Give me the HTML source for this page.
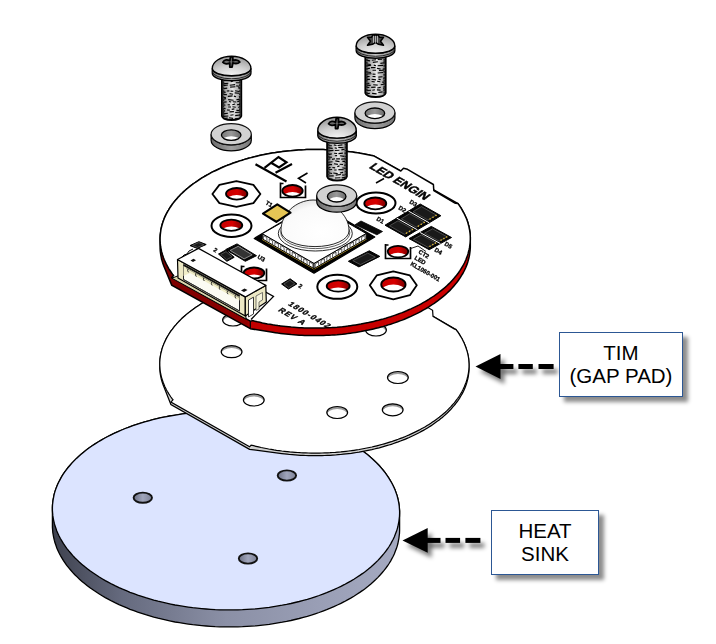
<!DOCTYPE html>
<html><head><meta charset="utf-8"><style>
html,body{margin:0;padding:0;background:#fff;}
body{width:716px;height:644px;overflow:hidden;position:relative;font-family:"Liberation Sans",sans-serif;}
svg{position:absolute;left:0;top:0;}
.box{position:absolute;box-sizing:border-box;border:1.3px solid #2c5794;background:#fff;box-shadow:5px 5px 4px rgba(0,0,0,0.45);color:#000;text-align:center;font-size:20.5px;line-height:23px;}
</style></head><body>
<svg width="716" height="644" viewBox="0 0 716 644">
<defs>
<linearGradient id="hsg" x1="52" y1="0" x2="400" y2="0" gradientUnits="userSpaceOnUse">
 <stop offset="0" stop-color="#3e414e"/><stop offset="0.2" stop-color="#656a7e"/><stop offset="0.5" stop-color="#8b90a6"/><stop offset="0.8" stop-color="#9ba0b7"/><stop offset="1" stop-color="#a5aac1"/></linearGradient>
<linearGradient id="pcbred" x1="160" y1="0" x2="470" y2="0" gradientUnits="userSpaceOnUse">
 <stop offset="0" stop-color="#7a0000"/><stop offset="0.28" stop-color="#900000"/><stop offset="0.295" stop-color="#c20000"/><stop offset="1" stop-color="#cc0000"/></linearGradient>
<linearGradient id="holeg" x1="0" y1="0" x2="1" y2="0">
 <stop offset="0" stop-color="#6d7185"/><stop offset="0.5" stop-color="#a0a5bb"/><stop offset="1" stop-color="#7d8196"/></linearGradient>
<linearGradient id="redg" x1="0" y1="0" x2="1" y2="0">
 <stop offset="0" stop-color="#c40000"/><stop offset="0.55" stop-color="#d80000"/><stop offset="1" stop-color="#7a0000"/></linearGradient>
<linearGradient id="washhole" x1="0" y1="0" x2="1" y2="0">
 <stop offset="0" stop-color="#777"/><stop offset="0.5" stop-color="#9a9a9a"/><stop offset="1" stop-color="#6a6a6a"/></linearGradient>
<radialGradient id="domeg" cx="0.6" cy="0.7" r="0.75">
 <stop offset="0" stop-color="#ffffff"/><stop offset="0.75" stop-color="#fafafa"/><stop offset="1" stop-color="#e2e2e2"/></radialGradient>
<linearGradient id="washside" x1="0" y1="0" x2="1" y2="0">
 <stop offset="0" stop-color="#6a6a6a"/><stop offset="0.5" stop-color="#a0a0a0"/><stop offset="1" stop-color="#777"/></linearGradient>
<radialGradient id="headg" cx="0.5" cy="1" r="0.9">
 <stop offset="0" stop-color="#f6f6f6"/><stop offset="0.55" stop-color="#cfcfcf"/><stop offset="1" stop-color="#a0a0a0"/></radialGradient>
<linearGradient id="rimg" x1="0" y1="0" x2="1" y2="0">
 <stop offset="0" stop-color="#777"/><stop offset="0.5" stop-color="#c4c4c4"/><stop offset="1" stop-color="#7c7c7c"/></linearGradient>
<linearGradient id="shank" x1="0" y1="0" x2="1" y2="0">
 <stop offset="0" stop-color="#666"/><stop offset="0.2" stop-color="#aaa"/><stop offset="0.55" stop-color="#e8e8e8"/><stop offset="0.85" stop-color="#aaa"/><stop offset="1" stop-color="#666"/></linearGradient>
<filter id="blur" x="-30%" y="-100%" width="160%" height="300%"><feGaussianBlur stdDeviation="2.3"/></filter>
</defs>
<path d="M399.6,513.6 L399.6,530.6 L399.5,533.2 L399.2,535.8 L398.9,538.3 L398.4,540.9 L397.9,543.5 L397.2,546.1 L396.4,548.6 L395.4,551.1 L394.4,553.7 L393.2,556.2 L391.9,558.6 L390.6,561.1 L389.1,563.5 L387.4,566 L385.7,568.3 L383.9,570.7 L381.9,573 L379.9,575.3 L377.7,577.6 L375.5,579.8 L373.1,582 L370.6,584.2 L368.1,586.3 L365.4,588.4 L362.7,590.4 L359.8,592.4 L356.9,594.3 L353.9,596.2 L350.7,598.1 L347.5,599.9 L344.2,601.7 L340.9,603.4 L337.4,605 L333.9,606.6 L330.3,608.2 L326.7,609.7 L322.9,611.1 L319.1,612.5 L315.2,613.8 L311.3,615.1 L307.3,616.3 L303.3,617.4 L299.2,618.5 L295,619.5 L290.9,620.5 L286.6,621.4 L282.3,622.2 L278,622.9 L273.7,623.6 L269.3,624.3 L264.9,624.8 L260.4,625.3 L256,625.8 L251.5,626.1 L247,626.4 L242.5,626.7 L237.9,626.8 L233.4,626.9 L228.8,626.9 L224.3,626.9 L219.8,626.8 L215.2,626.6 L210.7,626.3 L206.2,626 L201.7,625.6 L197.2,625.2 L192.7,624.7 L188.3,624.1 L183.8,623.4 L179.4,622.7 L175.1,622 L170.7,621.1 L166.5,620.2 L162.2,619.2 L158,618.2 L153.8,617.1 L149.7,615.9 L145.7,614.7 L141.7,613.4 L137.7,612.1 L133.9,610.7 L130,609.3 L126.3,607.7 L122.6,606.2 L119,604.6 L115.4,602.9 L112,601.2 L108.6,599.4 L105.3,597.6 L102.1,595.7 L98.9,593.8 L95.9,591.8 L92.9,589.8 L90,587.8 L87.3,585.7 L84.6,583.6 L82,581.4 L79.5,579.2 L77.1,576.9 L74.8,574.7 L72.6,572.4 L70.6,570 L68.6,567.7 L66.7,565.3 L65,562.9 L63.3,560.4 L61.8,557.9 L60.4,555.5 L59.1,553 L57.9,550.4 L56.8,547.9 L55.9,545.3 L55,542.8 L54.3,540.2 L53.7,537.6 L53.2,535 L52.8,532.4 L52.6,529.8 L52.4,527.2 L52.4,524.6 L52.4,507.6 L52.5,505 L52.8,502.4 L53.1,499.9 L53.6,497.3 L54.1,494.7 L54.8,492.1 L55.6,489.6 L56.6,487.1 L57.6,484.5 L58.8,482 L60.1,479.6 L61.4,477.1 L62.9,474.7 L64.6,472.2 L66.3,469.9 L68.1,467.5 L70.1,465.2 L72.1,462.9 L74.3,460.6 L76.5,458.4 L78.9,456.2 L81.4,454 L83.9,451.9 L86.6,449.8 L89.3,447.8 L92.2,445.8 L95.1,443.9 L98.1,442 L101.3,440.1 L104.5,438.3 L107.8,436.5 L111.1,434.8 L114.6,433.2 L118.1,431.6 L121.7,430 L125.3,428.5 L129.1,427.1 L132.9,425.7 L136.8,424.4 L140.7,423.1 L144.7,421.9 L148.7,420.8 L152.8,419.7 L157,418.7 L161.1,417.7 L165.4,416.8 L169.7,416 L174,415.3 L178.3,414.6 L182.7,413.9 L187.1,413.4 L191.6,412.9 L196,412.4 L200.5,412.1 L205,411.8 L209.5,411.5 L214.1,411.4 L218.6,411.3 L223.2,411.3 L227.7,411.3 L232.2,411.4 L236.8,411.6 L241.3,411.9 L245.8,412.2 L250.3,412.6 L254.8,413 L259.3,413.5 L263.7,414.1 L268.2,414.8 L272.6,415.5 L276.9,416.2 L281.3,417.1 L285.5,418 L289.8,419 L294,420 L298.2,421.1 L302.3,422.3 L306.3,423.5 L310.3,424.8 L314.3,426.1 L318.1,427.5 L322,428.9 L325.7,430.5 L329.4,432 L333,433.6 L336.6,435.3 L340,437 L343.4,438.8 L346.7,440.6 L349.9,442.5 L353.1,444.4 L356.1,446.4 L359.1,448.4 L362,450.4 L364.7,452.5 L367.4,454.6 L370,456.8 L372.5,459 L374.9,461.3 L377.2,463.5 L379.4,465.8 L381.4,468.2 L383.4,470.5 L385.3,472.9 L387,475.3 L388.7,477.8 L390.2,480.3 L391.6,482.7 L392.9,485.2 L394.1,487.8 L395.2,490.3 L396.1,492.9 L397,495.4 L397.7,498 L398.3,500.6 L398.8,503.2 L399.2,505.8 L399.4,508.4 L399.6,511Z" fill="url(#hsg)" stroke="#000" stroke-width="1.3"/>
<path d="M399.6,513.6 L399.5,516.2 L399.2,518.8 L398.9,521.3 L398.4,523.9 L397.9,526.5 L397.2,529.1 L396.4,531.6 L395.4,534.1 L394.4,536.7 L393.2,539.2 L391.9,541.6 L390.6,544.1 L389.1,546.5 L387.4,549 L385.7,551.3 L383.9,553.7 L381.9,556 L379.9,558.3 L377.7,560.6 L375.5,562.8 L373.1,565 L370.6,567.2 L368.1,569.3 L365.4,571.4 L362.7,573.4 L359.8,575.4 L356.9,577.3 L353.9,579.2 L350.7,581.1 L347.5,582.9 L344.2,584.7 L340.9,586.4 L337.4,588 L333.9,589.6 L330.3,591.2 L326.7,592.7 L322.9,594.1 L319.1,595.5 L315.2,596.8 L311.3,598.1 L307.3,599.3 L303.3,600.4 L299.2,601.5 L295,602.5 L290.9,603.5 L286.6,604.4 L282.3,605.2 L278,605.9 L273.7,606.6 L269.3,607.3 L264.9,607.8 L260.4,608.3 L256,608.8 L251.5,609.1 L247,609.4 L242.5,609.7 L237.9,609.8 L233.4,609.9 L228.8,609.9 L224.3,609.9 L219.8,609.8 L215.2,609.6 L210.7,609.3 L206.2,609 L201.7,608.6 L197.2,608.2 L192.7,607.7 L188.3,607.1 L183.8,606.4 L179.4,605.7 L175.1,605 L170.7,604.1 L166.5,603.2 L162.2,602.2 L158,601.2 L153.8,600.1 L149.7,598.9 L145.7,597.7 L141.7,596.4 L137.7,595.1 L133.9,593.7 L130,592.3 L126.3,590.7 L122.6,589.2 L119,587.6 L115.4,585.9 L112,584.2 L108.6,582.4 L105.3,580.6 L102.1,578.7 L98.9,576.8 L95.9,574.8 L92.9,572.8 L90,570.8 L87.3,568.7 L84.6,566.6 L82,564.4 L79.5,562.2 L77.1,559.9 L74.8,557.7 L72.6,555.4 L70.6,553 L68.6,550.7 L66.7,548.3 L65,545.9 L63.3,543.4 L61.8,540.9 L60.4,538.5 L59.1,536 L57.9,533.4 L56.8,530.9 L55.9,528.3 L55,525.8 L54.3,523.2 L53.7,520.6 L53.2,518 L52.8,515.4 L52.6,512.8 L52.4,510.2 L52.4,507.6 L52.5,505 L52.8,502.4 L53.1,499.9 L53.6,497.3 L54.1,494.7 L54.8,492.1 L55.6,489.6 L56.6,487.1 L57.6,484.5 L58.8,482 L60.1,479.6 L61.4,477.1 L62.9,474.7 L64.6,472.2 L66.3,469.9 L68.1,467.5 L70.1,465.2 L72.1,462.9 L74.3,460.6 L76.5,458.4 L78.9,456.2 L81.4,454 L83.9,451.9 L86.6,449.8 L89.3,447.8 L92.2,445.8 L95.1,443.9 L98.1,442 L101.3,440.1 L104.5,438.3 L107.8,436.5 L111.1,434.8 L114.6,433.2 L118.1,431.6 L121.7,430 L125.3,428.5 L129.1,427.1 L132.9,425.7 L136.8,424.4 L140.7,423.1 L144.7,421.9 L148.7,420.8 L152.8,419.7 L157,418.7 L161.1,417.7 L165.4,416.8 L169.7,416 L174,415.3 L178.3,414.6 L182.7,413.9 L187.1,413.4 L191.6,412.9 L196,412.4 L200.5,412.1 L205,411.8 L209.5,411.5 L214.1,411.4 L218.6,411.3 L223.2,411.3 L227.7,411.3 L232.2,411.4 L236.8,411.6 L241.3,411.9 L245.8,412.2 L250.3,412.6 L254.8,413 L259.3,413.5 L263.7,414.1 L268.2,414.8 L272.6,415.5 L276.9,416.2 L281.3,417.1 L285.5,418 L289.8,419 L294,420 L298.2,421.1 L302.3,422.3 L306.3,423.5 L310.3,424.8 L314.3,426.1 L318.1,427.5 L322,428.9 L325.7,430.5 L329.4,432 L333,433.6 L336.6,435.3 L340,437 L343.4,438.8 L346.7,440.6 L349.9,442.5 L353.1,444.4 L356.1,446.4 L359.1,448.4 L362,450.4 L364.7,452.5 L367.4,454.6 L370,456.8 L372.5,459 L374.9,461.3 L377.2,463.5 L379.4,465.8 L381.4,468.2 L383.4,470.5 L385.3,472.9 L387,475.3 L388.7,477.8 L390.2,480.3 L391.6,482.7 L392.9,485.2 L394.1,487.8 L395.2,490.3 L396.1,492.9 L397,495.4 L397.7,498 L398.3,500.6 L398.8,503.2 L399.2,505.8 L399.4,508.4 L399.6,511Z" fill="#dce4ff" stroke="#000" stroke-width="1.3"/>
<ellipse cx="142.8" cy="497.7" rx="9.2" ry="5.1" fill="url(#holeg)" stroke="#111" stroke-width="1.9"/>
<ellipse cx="286.9" cy="475.5" rx="9.2" ry="5.1" fill="url(#holeg)" stroke="#111" stroke-width="1.9"/>
<ellipse cx="248" cy="558.5" rx="9.2" ry="5.1" fill="url(#holeg)" stroke="#111" stroke-width="1.9"/>
<path d="M249.6,449.4 L170.9,404.6 L163.7,386.3 L163.1,384.8 L162.6,383.3 L162.1,381.7 L161.6,380.2 L161.2,378.7 L160.9,377.2 L160.6,375.6 L160.3,374.1 L160.1,372.5 L160,371 L159.9,369.5 L159.8,367.9 L159.8,366.4 L159.8,363.8 L159.8,362.2 L159.9,360.7 L160,359.1 L160.2,357.6 L160.4,356.1 L160.7,354.5 L161,353 L161.4,351.5 L161.8,349.9 L162.2,348.4 L162.7,346.9 L163.3,345.4 L163.9,343.9 L164.5,342.4 L165.2,340.9 L165.9,339.4 L166.7,337.9 L167.5,336.5 L168.4,335 L169.3,333.5 L170.2,332.1 L171.2,330.7 L172.3,329.3 L173.4,327.8 L174.5,326.4 L175.7,325.1 L176.9,323.7 L178.1,322.3 L179.4,321 L180.8,319.6 L182.1,318.3 L183.5,317 L185,315.7 L186.5,314.4 L188,313.2 L189.6,311.9 L191.2,310.7 L192.9,309.5 L194.6,308.3 L196.3,307.1 L198,305.9 L199.8,304.8 L201.7,303.6 L203.5,302.5 L205.4,301.4 L207.4,300.4 L209.3,299.3 L211.3,298.3 L213.3,297.3 L215.4,296.3 L217.5,295.3 L219.6,294.3 L221.7,293.4 L223.9,292.5 L226.1,291.6 L228.3,290.8 L230.6,289.9 L232.9,289.1 L235.2,288.3 L237.5,287.5 L239.9,286.8 L242.2,286.1 L244.6,285.4 L247.1,284.7 L249.5,284 L252,283.4 L254.4,282.8 L256.9,282.2 L259.4,281.7 L262,281.2 L264.5,280.7 L267.1,280.2 L269.7,279.7 L272.2,279.3 L274.8,278.9 L277.5,278.5 L280.1,278.2 L282.7,277.9 L285.4,277.6 L288,277.3 L290.7,277.1 L293.4,276.8 L296,276.7 L298.7,276.5 L301.4,276.4 L304.1,276.3 L306.8,276.2 L309.5,276.1 L312.2,276.1 L314.9,276.1 L317.6,276.1 L320.3,276.2 L323,276.3 L325.7,276.4 L328.4,276.5 L331,276.7 L333.7,276.9 L336.4,277.1 L339.1,277.3 L341.7,277.6 L344.4,277.9 L347,278.2 L349.6,278.6 L373.4,281.9 L455.8,329.4 L456.9,330.8 L457.9,332.2 L458.9,333.7 L459.8,335.1 L460.7,336.6 L461.6,338 L462.4,339.5 L463.1,341 L463.9,342.5 L464.5,344 L465.1,345.5 L465.7,347 L466.2,348.5 L466.7,350.1 L467.2,351.6 L467.6,353.1 L467.9,354.6 L468.2,356.2 L468.5,357.7 L468.7,359.3 L468.8,360.8 L468.9,362.3 L469,363.9 L469,365.4 L469,368 L469,369.6 L468.9,371.1 L468.8,372.7 L468.6,374.2 L468.4,375.7 L468.1,377.3 L467.8,378.8 L467.4,380.3 L467,381.9 L466.6,383.4 L466.1,384.9 L465.5,386.4 L464.9,387.9 L464.3,389.4 L463.6,390.9 L462.9,392.4 L462.1,393.9 L461.3,395.3 L460.4,396.8 L459.5,398.3 L458.6,399.7 L457.6,401.1 L456.5,402.5 L455.4,404 L454.3,405.4 L453.1,406.7 L451.9,408.1 L450.7,409.5 L449.4,410.8 L448,412.2 L446.7,413.5 L445.3,414.8 L443.8,416.1 L442.3,417.4 L440.8,418.6 L439.2,419.9 L437.6,421.1 L435.9,422.3 L434.2,423.5 L432.5,424.7 L430.8,425.9 L429,427 L427.1,428.2 L425.3,429.3 L423.4,430.4 L421.4,431.4 L419.5,432.5 L417.5,433.5 L415.5,434.5 L413.4,435.5 L411.3,436.5 L409.2,437.5 L407.1,438.4 L404.9,439.3 L402.7,440.2 L400.5,441 L398.2,441.9 L395.9,442.7 L393.6,443.5 L391.3,444.3 L388.9,445 L386.6,445.7 L384.2,446.4 L381.7,447.1 L379.3,447.8 L376.8,448.4 L374.4,449 L371.9,449.6 L369.4,450.1 L366.8,450.6 L364.3,451.1 L361.7,451.6 L359.1,452.1 L356.6,452.5 L354,452.9 L351.3,453.3 L348.7,453.6 L346.1,453.9 L343.4,454.2 L340.8,454.5 L338.1,454.7 L335.4,455 L332.8,455.1 L330.1,455.3 L327.4,455.4 L324.7,455.5 L322,455.6 L319.3,455.7 L316.6,455.7 L313.9,455.7 L311.2,455.7 L308.5,455.6 L305.8,455.5 L303.1,455.4 L300.4,455.3 L297.8,455.1 L295.1,454.9 L292.4,454.7 L289.7,454.5 L287.1,454.2 L284.4,453.9 L281.8,453.6Z" fill="#d0d0d0" stroke="#000" stroke-width="1.25"/>
<path d="M469,365.4 L469,367 L468.9,368.5 L468.8,370.1 L468.6,371.6 L468.4,373.1 L468.1,374.7 L467.8,376.2 L467.4,377.7 L467,379.3 L466.6,380.8 L466.1,382.3 L465.5,383.8 L464.9,385.3 L464.3,386.8 L463.6,388.3 L462.9,389.8 L462.1,391.3 L461.3,392.7 L460.4,394.2 L459.5,395.7 L458.6,397.1 L457.6,398.5 L456.5,399.9 L455.4,401.4 L454.3,402.8 L453.1,404.1 L451.9,405.5 L450.7,406.9 L449.4,408.2 L448,409.6 L446.7,410.9 L445.3,412.2 L443.8,413.5 L442.3,414.8 L440.8,416 L439.2,417.3 L437.6,418.5 L435.9,419.7 L434.2,420.9 L432.5,422.1 L430.8,423.3 L429,424.4 L427.1,425.6 L425.3,426.7 L423.4,427.8 L421.4,428.8 L419.5,429.9 L417.5,430.9 L415.5,431.9 L413.4,432.9 L411.3,433.9 L409.2,434.9 L407.1,435.8 L404.9,436.7 L402.7,437.6 L400.5,438.4 L398.2,439.3 L395.9,440.1 L393.6,440.9 L391.3,441.7 L388.9,442.4 L386.6,443.1 L384.2,443.8 L381.7,444.5 L379.3,445.2 L376.8,445.8 L374.4,446.4 L371.9,447 L369.4,447.5 L366.8,448 L364.3,448.5 L361.7,449 L359.1,449.5 L356.6,449.9 L354,450.3 L351.3,450.7 L348.7,451 L346.1,451.3 L343.4,451.6 L340.8,451.9 L338.1,452.1 L335.4,452.4 L332.8,452.5 L330.1,452.7 L327.4,452.8 L324.7,452.9 L322,453 L319.3,453.1 L316.6,453.1 L313.9,453.1 L311.2,453.1 L308.5,453 L305.8,452.9 L303.1,452.8 L300.4,452.7 L297.8,452.5 L295.1,452.3 L292.4,452.1 L289.7,451.9 L287.1,451.6 L284.4,451.3 L281.8,451 L279.2,450.6 L276.5,450.3 L273.9,449.9 L271.3,449.4 L268.7,449 L266.2,448.5 L263.6,448 L261.1,447.5 L258.6,446.9 L256,446.3 L253.6,445.7 L251.1,445.1 L249.6,446.8 L170.9,402 L173,399.8 L171.9,398.4 L170.9,397 L169.9,395.5 L169,394.1 L168.1,392.6 L167.2,391.2 L166.4,389.7 L165.7,388.2 L164.9,386.7 L164.3,385.2 L163.7,383.7 L163.1,382.2 L162.6,380.7 L162.1,379.1 L161.6,377.6 L161.2,376.1 L160.9,374.6 L160.6,373 L160.3,371.5 L160.1,369.9 L160,368.4 L159.9,366.9 L159.8,365.3 L159.8,363.8 L159.8,362.2 L159.9,360.7 L160,359.1 L160.2,357.6 L160.4,356.1 L160.7,354.5 L161,353 L161.4,351.5 L161.8,349.9 L162.2,348.4 L162.7,346.9 L163.3,345.4 L163.9,343.9 L164.5,342.4 L165.2,340.9 L165.9,339.4 L166.7,337.9 L167.5,336.5 L168.4,335 L169.3,333.5 L170.2,332.1 L171.2,330.7 L172.3,329.3 L173.4,327.8 L174.5,326.4 L175.7,325.1 L176.9,323.7 L178.1,322.3 L179.4,321 L180.8,319.6 L182.1,318.3 L183.5,317 L185,315.7 L186.5,314.4 L188,313.2 L189.6,311.9 L191.2,310.7 L192.9,309.5 L194.6,308.3 L196.3,307.1 L198,305.9 L199.8,304.8 L201.7,303.6 L203.5,302.5 L205.4,301.4 L207.4,300.4 L209.3,299.3 L211.3,298.3 L213.3,297.3 L215.4,296.3 L217.5,295.3 L219.6,294.3 L221.7,293.4 L223.9,292.5 L226.1,291.6 L228.3,290.8 L230.6,289.9 L232.9,289.1 L235.2,288.3 L237.5,287.5 L239.9,286.8 L242.2,286.1 L244.6,285.4 L247.1,284.7 L249.5,284 L252,283.4 L254.4,282.8 L256.9,282.2 L259.4,281.7 L262,281.2 L264.5,280.7 L267.1,280.2 L269.7,279.7 L272.2,279.3 L274.8,278.9 L277.5,278.5 L280.1,278.2 L282.7,277.9 L285.4,277.6 L288,277.3 L290.7,277.1 L293.4,276.8 L296,276.7 L298.7,276.5 L301.4,276.4 L304.1,276.3 L306.8,276.2 L309.5,276.1 L312.2,276.1 L314.9,276.1 L317.6,276.1 L320.3,276.2 L323,276.3 L325.7,276.4 L328.4,276.5 L331,276.7 L333.7,276.9 L336.4,277.1 L339.1,277.3 L341.7,277.6 L344.4,277.9 L347,278.2 L349.6,278.6 L352.3,278.9 L354.9,279.3 L357.5,279.8 L360.1,280.2 L362.6,280.7 L365.2,281.2 L367.7,281.7 L370.2,282.3 L373.4,281.9 L400,296.8 L402.7,294.1 L406.7,295.1 L432.6,310.3 L433,316.3 L454.6,329.1 L455.8,329.4 L456.9,330.8 L457.9,332.2 L458.9,333.7 L459.8,335.1 L460.7,336.6 L461.6,338 L462.4,339.5 L463.1,341 L463.9,342.5 L464.5,344 L465.1,345.5 L465.7,347 L466.2,348.5 L466.7,350.1 L467.2,351.6 L467.6,353.1 L467.9,354.6 L468.2,356.2 L468.5,357.7 L468.7,359.3 L468.8,360.8 L468.9,362.3 L469,363.9Z" fill="#fff" stroke="#000" stroke-width="1.2"/>
<clipPath id="hc1"><ellipse cx="231.6" cy="351.7" rx="10.4" ry="6"/></clipPath><ellipse cx="231.6" cy="351.7" rx="10.4" ry="6" fill="#9a9a9a"/><ellipse cx="231.6" cy="354.1" rx="10.4" ry="6" fill="#fff" clip-path="url(#hc1)"/><ellipse cx="231.6" cy="351.7" rx="10.4" ry="6" fill="none" stroke="#000" stroke-width="1.2"/>
<clipPath id="hc2"><ellipse cx="253.8" cy="400" rx="10.4" ry="6"/></clipPath><ellipse cx="253.8" cy="400" rx="10.4" ry="6" fill="#9a9a9a"/><ellipse cx="253.8" cy="402.4" rx="10.4" ry="6" fill="#fff" clip-path="url(#hc2)"/><ellipse cx="253.8" cy="400" rx="10.4" ry="6" fill="none" stroke="#000" stroke-width="1.2"/>
<clipPath id="hc3"><ellipse cx="397.9" cy="377.5" rx="10.4" ry="6"/></clipPath><ellipse cx="397.9" cy="377.5" rx="10.4" ry="6" fill="#9a9a9a"/><ellipse cx="397.9" cy="379.9" rx="10.4" ry="6" fill="#fff" clip-path="url(#hc3)"/><ellipse cx="397.9" cy="377.5" rx="10.4" ry="6" fill="none" stroke="#000" stroke-width="1.2"/>
<clipPath id="hc4"><ellipse cx="337.2" cy="412.5" rx="10.4" ry="6"/></clipPath><ellipse cx="337.2" cy="412.5" rx="10.4" ry="6" fill="#9a9a9a"/><ellipse cx="337.2" cy="414.9" rx="10.4" ry="6" fill="#fff" clip-path="url(#hc4)"/><ellipse cx="337.2" cy="412.5" rx="10.4" ry="6" fill="none" stroke="#000" stroke-width="1.2"/>
<clipPath id="hc5"><ellipse cx="392.7" cy="409.8" rx="10.4" ry="6"/></clipPath><ellipse cx="392.7" cy="409.8" rx="10.4" ry="6" fill="#9a9a9a"/><ellipse cx="392.7" cy="412.2" rx="10.4" ry="6" fill="#fff" clip-path="url(#hc5)"/><ellipse cx="392.7" cy="409.8" rx="10.4" ry="6" fill="none" stroke="#000" stroke-width="1.2"/>
<clipPath id="hc6"><ellipse cx="233" cy="320" rx="10.4" ry="6"/></clipPath><ellipse cx="233" cy="320" rx="10.4" ry="6" fill="#9a9a9a"/><ellipse cx="233" cy="322.4" rx="10.4" ry="6" fill="#fff" clip-path="url(#hc6)"/><ellipse cx="233" cy="320" rx="10.4" ry="6" fill="none" stroke="#000" stroke-width="1.2"/>
<clipPath id="hc7"><ellipse cx="376" cy="330" rx="10.4" ry="6"/></clipPath><ellipse cx="376" cy="330" rx="10.4" ry="6" fill="#9a9a9a"/><ellipse cx="376" cy="332.4" rx="10.4" ry="6" fill="#fff" clip-path="url(#hc7)"/><ellipse cx="376" cy="330" rx="10.4" ry="6" fill="none" stroke="#000" stroke-width="1.2"/>
<path d="M250.3,328.7 L171.7,285.1 L164.1,266.8 L163.5,265.3 L163,263.8 L162.5,262.3 L162.1,260.7 L161.6,259.2 L161.3,257.6 L161,256.1 L160.7,254.5 L160.5,253 L160.3,251.4 L160.2,249.9 L160.1,248.3 L160.1,246.8 L160.1,239.3 L160.1,237.7 L160.2,236.1 L160.3,234.6 L160.5,233 L160.7,231.5 L160.9,229.9 L161.2,228.4 L161.6,226.8 L162,225.3 L162.4,223.7 L162.9,222.2 L163.4,220.7 L164,219.2 L164.6,217.6 L165.3,216.1 L166,214.6 L166.8,213.1 L167.6,211.6 L168.5,210.2 L169.4,208.7 L170.3,207.2 L171.3,205.8 L172.3,204.3 L173.4,202.9 L174.5,201.5 L175.7,200.1 L176.9,198.7 L178.1,197.3 L179.4,195.9 L180.7,194.5 L182.1,193.2 L183.5,191.9 L185,190.5 L186.5,189.2 L188,188 L189.6,186.7 L191.2,185.4 L192.8,184.2 L194.5,183 L196.2,181.8 L198,180.6 L199.8,179.4 L201.6,178.2 L203.4,177.1 L205.3,176 L207.3,174.9 L209.2,173.8 L211.2,172.7 L213.2,171.7 L215.3,170.7 L217.4,169.7 L219.5,168.7 L221.6,167.8 L223.8,166.8 L226,165.9 L228.2,165 L230.5,164.2 L232.8,163.3 L235.1,162.5 L237.4,161.7 L239.8,160.9 L242.2,160.2 L244.6,159.4 L247,158.7 L249.4,158.1 L251.9,157.4 L254.4,156.8 L256.9,156.2 L259.4,155.6 L261.9,155 L264.5,154.5 L267,154 L269.6,153.5 L272.2,153.1 L274.8,152.7 L277.4,152.3 L280.1,151.9 L282.7,151.5 L285.3,151.2 L288,150.9 L290.7,150.7 L293.4,150.4 L296,150.2 L298.7,150 L301.4,149.9 L304.1,149.8 L306.8,149.6 L309.5,149.6 L312.2,149.5 L314.9,149.5 L317.6,149.5 L320.3,149.5 L323.1,149.6 L325.8,149.7 L328.5,149.8 L331.1,149.9 L333.8,150.1 L336.5,150.3 L339.2,150.5 L341.9,150.8 L344.5,151.1 L347.2,151.4 L349.8,151.7 L352.5,152 L355.1,152.4 L357.7,152.8 L360.3,153.3 L362.9,153.7 L365.4,154.2 L368,154.7 L370.5,155.3 L373.1,155.8 L374.2,156.1 L457.9,203.5 L458.9,204.9 L459.9,206.4 L460.9,207.8 L461.8,209.3 L462.6,210.8 L463.4,212.3 L464.2,213.7 L464.9,215.2 L465.6,216.7 L466.3,218.3 L466.9,219.8 L467.4,221.3 L467.9,222.8 L468.3,224.4 L468.8,225.9 L469.1,227.5 L469.4,229 L469.7,230.6 L469.9,232.1 L470.1,233.7 L470.2,235.2 L470.3,236.8 L470.3,238.3 L470.3,245.8 L470.3,247.4 L470.2,249 L470.1,250.5 L469.9,252.1 L469.7,253.6 L469.5,255.2 L469.2,256.7 L468.8,258.3 L468.4,259.8 L468,261.4 L467.5,262.9 L467,264.4 L466.4,265.9 L465.8,267.5 L465.1,269 L464.4,270.5 L463.6,272 L462.8,273.5 L461.9,274.9 L461,276.4 L460.1,277.9 L459.1,279.3 L458.1,280.8 L457,282.2 L455.9,283.6 L454.7,285 L453.5,286.4 L452.3,287.8 L451,289.2 L449.7,290.6 L448.3,291.9 L446.9,293.2 L445.4,294.6 L443.9,295.9 L442.4,297.1 L440.8,298.4 L439.2,299.7 L437.6,300.9 L435.9,302.1 L434.2,303.3 L432.4,304.5 L430.6,305.7 L428.8,306.9 L427,308 L425.1,309.1 L423.1,310.2 L421.2,311.3 L419.2,312.4 L417.2,313.4 L415.1,314.4 L413,315.4 L410.9,316.4 L408.8,317.3 L406.6,318.3 L404.4,319.2 L402.2,320.1 L399.9,320.9 L397.6,321.8 L395.3,322.6 L393,323.4 L390.6,324.2 L388.2,324.9 L385.8,325.7 L383.4,326.4 L381,327 L378.5,327.7 L376,328.3 L373.5,328.9 L371,329.5 L368.5,330.1 L365.9,330.6 L363.4,331.1 L360.8,331.6 L358.2,332 L355.6,332.4 L353,332.8 L350.3,333.2 L347.7,333.6 L345.1,333.9 L342.4,334.2 L339.7,334.4 L337,334.7 L334.4,334.9 L331.7,335.1 L329,335.2 L326.3,335.3 L323.6,335.5 L320.9,335.5 L318.2,335.6 L315.5,335.6 L312.8,335.6 L310.1,335.6 L307.3,335.5 L304.6,335.4 L301.9,335.3 L299.3,335.2 L296.6,335 L293.9,334.8 L291.2,334.6 L288.5,334.3 L285.9,334 L283.2,333.7 L280.6,333.4 L277.9,333.1 L275.3,332.7 L272.7,332.3Z" fill="url(#pcbred)" stroke="#000" stroke-width="1.5"/>
<path d="M470.3,238.3 L470.3,239.9 L470.2,241.5 L470.1,243 L469.9,244.6 L469.7,246.1 L469.5,247.7 L469.2,249.2 L468.8,250.8 L468.4,252.3 L468,253.9 L467.5,255.4 L467,256.9 L466.4,258.4 L465.8,260 L465.1,261.5 L464.4,263 L463.6,264.5 L462.8,266 L461.9,267.4 L461,268.9 L460.1,270.4 L459.1,271.8 L458.1,273.3 L457,274.7 L455.9,276.1 L454.7,277.5 L453.5,278.9 L452.3,280.3 L451,281.7 L449.7,283.1 L448.3,284.4 L446.9,285.7 L445.4,287.1 L443.9,288.4 L442.4,289.6 L440.8,290.9 L439.2,292.2 L437.6,293.4 L435.9,294.6 L434.2,295.8 L432.4,297 L430.6,298.2 L428.8,299.4 L427,300.5 L425.1,301.6 L423.1,302.7 L421.2,303.8 L419.2,304.9 L417.2,305.9 L415.1,306.9 L413,307.9 L410.9,308.9 L408.8,309.8 L406.6,310.8 L404.4,311.7 L402.2,312.6 L399.9,313.4 L397.6,314.3 L395.3,315.1 L393,315.9 L390.6,316.7 L388.2,317.4 L385.8,318.2 L383.4,318.9 L381,319.5 L378.5,320.2 L376,320.8 L373.5,321.4 L371,322 L368.5,322.6 L365.9,323.1 L363.4,323.6 L360.8,324.1 L358.2,324.5 L355.6,324.9 L353,325.3 L350.3,325.7 L347.7,326.1 L345.1,326.4 L342.4,326.7 L339.7,326.9 L337,327.2 L334.4,327.4 L331.7,327.6 L329,327.7 L326.3,327.8 L323.6,328 L320.9,328 L318.2,328.1 L315.5,328.1 L312.8,328.1 L310.1,328.1 L307.3,328 L304.6,327.9 L301.9,327.8 L299.3,327.7 L296.6,327.5 L293.9,327.3 L291.2,327.1 L288.5,326.8 L285.9,326.5 L283.2,326.2 L280.6,325.9 L277.9,325.6 L275.3,325.2 L272.7,324.8 L270.1,324.3 L267.5,323.9 L265,323.4 L262.4,322.9 L259.9,322.3 L257.3,321.8 L254.8,321.2 L252.4,320.6 L250.3,321.2 L171.7,277.6 L173.6,275.5 L172.5,274.1 L171.5,272.7 L170.5,271.2 L169.5,269.8 L168.6,268.3 L167.8,266.8 L167,265.3 L166.2,263.9 L165.5,262.4 L164.8,260.9 L164.1,259.3 L163.5,257.8 L163,256.3 L162.5,254.8 L162.1,253.2 L161.6,251.7 L161.3,250.1 L161,248.6 L160.7,247 L160.5,245.5 L160.3,243.9 L160.2,242.4 L160.1,240.8 L160.1,239.3 L160.1,237.7 L160.2,236.1 L160.3,234.6 L160.5,233 L160.7,231.5 L160.9,229.9 L161.2,228.4 L161.6,226.8 L162,225.3 L162.4,223.7 L162.9,222.2 L163.4,220.7 L164,219.2 L164.6,217.6 L165.3,216.1 L166,214.6 L166.8,213.1 L167.6,211.6 L168.5,210.2 L169.4,208.7 L170.3,207.2 L171.3,205.8 L172.3,204.3 L173.4,202.9 L174.5,201.5 L175.7,200.1 L176.9,198.7 L178.1,197.3 L179.4,195.9 L180.7,194.5 L182.1,193.2 L183.5,191.9 L185,190.5 L186.5,189.2 L188,188 L189.6,186.7 L191.2,185.4 L192.8,184.2 L194.5,183 L196.2,181.8 L198,180.6 L199.8,179.4 L201.6,178.2 L203.4,177.1 L205.3,176 L207.3,174.9 L209.2,173.8 L211.2,172.7 L213.2,171.7 L215.3,170.7 L217.4,169.7 L219.5,168.7 L221.6,167.8 L223.8,166.8 L226,165.9 L228.2,165 L230.5,164.2 L232.8,163.3 L235.1,162.5 L237.4,161.7 L239.8,160.9 L242.2,160.2 L244.6,159.4 L247,158.7 L249.4,158.1 L251.9,157.4 L254.4,156.8 L256.9,156.2 L259.4,155.6 L261.9,155 L264.5,154.5 L267,154 L269.6,153.5 L272.2,153.1 L274.8,152.7 L277.4,152.3 L280.1,151.9 L282.7,151.5 L285.3,151.2 L288,150.9 L290.7,150.7 L293.4,150.4 L296,150.2 L298.7,150 L301.4,149.9 L304.1,149.8 L306.8,149.6 L309.5,149.6 L312.2,149.5 L314.9,149.5 L317.6,149.5 L320.3,149.5 L323.1,149.6 L325.8,149.7 L328.5,149.8 L331.1,149.9 L333.8,150.1 L336.5,150.3 L339.2,150.5 L341.9,150.8 L344.5,151.1 L347.2,151.4 L349.8,151.7 L352.5,152 L355.1,152.4 L357.7,152.8 L360.3,153.3 L362.9,153.7 L365.4,154.2 L368,154.7 L370.5,155.3 L373.1,155.8 L374.2,156.1 L400.8,171 L403.5,168.3 L407.5,169.3 L433.4,184.5 L433.8,190.5 L455.4,203.3 L457.9,203.5 L458.9,204.9 L459.9,206.4 L460.9,207.8 L461.8,209.3 L462.6,210.8 L463.4,212.3 L464.2,213.7 L464.9,215.2 L465.6,216.7 L466.3,218.3 L466.9,219.8 L467.4,221.3 L467.9,222.8 L468.3,224.4 L468.8,225.9 L469.1,227.5 L469.4,229 L469.7,230.6 L469.9,232.1 L470.1,233.7 L470.2,235.2 L470.3,236.8Z" fill="#fff" stroke="#000" stroke-width="1.5" stroke-linejoin="round"/>
<path d="M250.3,321.2 L250.3,328.7" stroke="#000" stroke-width="1.2"/>
<path d="M260.4,194 L253.4,203.1 L236.4,206.9 L219.4,203.1 L212.4,194 L219.4,184.9 L236.4,181.1 L253.4,184.9Z" fill="#fff" stroke="#000" stroke-width="1.8" stroke-linejoin="round"/>
<clipPath id="hc8"><ellipse cx="236.7" cy="193.8" rx="10.7" ry="5.8"/></clipPath><ellipse cx="236.7" cy="193.8" rx="10.7" ry="5.8" fill="url(#redg)"/><ellipse cx="236.7" cy="200.8" rx="10.7" ry="5.8" fill="#fff" clip-path="url(#hc8)"/><ellipse cx="236.7" cy="193.8" rx="10.7" ry="5.8" fill="none" stroke="#000" stroke-width="1.8"/>
<ellipse cx="231.5" cy="225.7" rx="20" ry="11.2" fill="#fff" stroke="#000" stroke-width="2"/>
<clipPath id="hc9"><ellipse cx="231.3" cy="225.2" rx="11" ry="5.6"/></clipPath><ellipse cx="231.3" cy="225.2" rx="11" ry="5.6" fill="url(#redg)"/><ellipse cx="231.3" cy="232.2" rx="11" ry="5.6" fill="#fff" clip-path="url(#hc9)"/><ellipse cx="231.3" cy="225.2" rx="11" ry="5.6" fill="none" stroke="#000" stroke-width="1.8"/>
<path d="M280.5,182.5 L280.5,197.5 L305.5,197.5 L305.5,185.5 M280.5,183.5 L283.5,183.5" fill="none" stroke="#000" stroke-width="1.7"/>
<clipPath id="hc10"><ellipse cx="292.5" cy="190.8" rx="10.2" ry="5.8"/></clipPath><ellipse cx="292.5" cy="190.8" rx="10.2" ry="5.8" fill="url(#redg)"/><ellipse cx="292.5" cy="197.8" rx="10.2" ry="5.8" fill="#fff" clip-path="url(#hc10)"/><ellipse cx="292.5" cy="190.8" rx="10.2" ry="5.8" fill="none" stroke="#000" stroke-width="1.8"/>
<ellipse cx="376" cy="203" rx="19.5" ry="10.6" fill="#fff" stroke="#000" stroke-width="2"/>
<clipPath id="hc11"><ellipse cx="375.3" cy="203.4" rx="11" ry="5.9"/></clipPath><ellipse cx="375.3" cy="203.4" rx="11" ry="5.9" fill="url(#redg)"/><ellipse cx="375.3" cy="210.4" rx="11" ry="5.9" fill="#fff" clip-path="url(#hc11)"/><ellipse cx="375.3" cy="203.4" rx="11" ry="5.9" fill="none" stroke="#000" stroke-width="1.8"/>
<ellipse cx="337.3" cy="286.8" rx="20" ry="12" fill="#fff" stroke="#000" stroke-width="2"/>
<clipPath id="hc12"><ellipse cx="338.2" cy="286" rx="11.5" ry="5.6"/></clipPath><ellipse cx="338.2" cy="286" rx="11.5" ry="5.6" fill="url(#redg)"/><ellipse cx="338.2" cy="293" rx="11.5" ry="5.6" fill="#fff" clip-path="url(#hc12)"/><ellipse cx="338.2" cy="286" rx="11.5" ry="5.6" fill="none" stroke="#000" stroke-width="1.8"/>
<path d="M416.8,285.3 L409.9,295.2 L393.3,299.3 L376.7,295.2 L369.8,285.3 L376.7,275.4 L393.3,271.3 L409.9,275.4Z" fill="#fff" stroke="#000" stroke-width="1.8" stroke-linejoin="round"/>
<clipPath id="hc13"><ellipse cx="393.4" cy="284.5" rx="12.2" ry="7"/></clipPath><ellipse cx="393.4" cy="284.5" rx="12.2" ry="7" fill="url(#redg)"/><ellipse cx="393.4" cy="291.5" rx="12.2" ry="7" fill="#fff" clip-path="url(#hc13)"/><ellipse cx="393.4" cy="284.5" rx="12.2" ry="7" fill="none" stroke="#000" stroke-width="1.8"/>
<path d="M385.5,244 L385.5,258.5 L410.5,258.5 L410.5,247 M385.5,245 L388.5,245" fill="none" stroke="#000" stroke-width="1.7"/>
<clipPath id="hc14"><ellipse cx="398" cy="251.6" rx="10.3" ry="5.8"/></clipPath><ellipse cx="398" cy="251.6" rx="10.3" ry="5.8" fill="url(#redg)"/><ellipse cx="398" cy="258.6" rx="10.3" ry="5.8" fill="#fff" clip-path="url(#hc14)"/><ellipse cx="398" cy="251.6" rx="10.3" ry="5.8" fill="none" stroke="#000" stroke-width="1.8"/>
<path d="M241.5,265.5 L241.5,280.5 L266.5,280.5 L266.5,268.5 M241.5,266.5 L244.5,266.5" fill="none" stroke="#000" stroke-width="1.7"/>
<clipPath id="hc15"><ellipse cx="254" cy="273" rx="10.3" ry="5.5"/></clipPath><ellipse cx="254" cy="273" rx="10.3" ry="5.5" fill="url(#redg)"/><ellipse cx="254" cy="280" rx="10.3" ry="5.5" fill="#fff" clip-path="url(#hc15)"/><ellipse cx="254" cy="273" rx="10.3" ry="5.5" fill="none" stroke="#000" stroke-width="1.8"/>
<path d="M254.2,238.4 L314,273.2 L374.8,237 L315,202.2Z" fill="#000" stroke="#000" stroke-width="1.2" stroke-linejoin="round"/>
<path d="M262.3,239.2 L314,268.9 L366.2,239" fill="none" stroke="#e8c030" stroke-width="1.2"/>
<path d="M262.3,233.7 L314,263.4 L314,268.6 L262.3,238.9Z" fill="#fff" stroke="#000" stroke-width="1"/>
<path d="M314,263.4 L366.2,233.5 L366.2,238.7 L314,268.6Z" fill="#fff" stroke="#000" stroke-width="1"/>
<path d="M263.4,239.1 L263.4,235.6 L266.9,237.5 L266.9,241" fill="none" stroke="#333" stroke-width="0.8"/>
<path d="M269.2,242.4 L269.2,238.9 L272.6,240.8 L272.6,244.3" fill="none" stroke="#333" stroke-width="0.8"/>
<path d="M274.9,245.7 L274.9,242.2 L278.4,244.1 L278.4,247.6" fill="none" stroke="#333" stroke-width="0.8"/>
<path d="M280.7,249 L280.7,245.5 L284.1,247.4 L284.1,250.9" fill="none" stroke="#333" stroke-width="0.8"/>
<path d="M286.4,252.3 L286.4,248.8 L289.9,250.7 L289.9,254.2" fill="none" stroke="#333" stroke-width="0.8"/>
<path d="M292.2,255.6 L292.2,252.1 L295.6,254 L295.6,257.5" fill="none" stroke="#333" stroke-width="0.8"/>
<path d="M297.9,258.9 L297.9,255.4 L301.4,257.3 L301.4,260.8" fill="none" stroke="#333" stroke-width="0.8"/>
<path d="M303.7,262.2 L303.7,258.7 L307.1,260.6 L307.1,264.1" fill="none" stroke="#333" stroke-width="0.8"/>
<path d="M309.4,265.5 L309.4,262 L312.9,263.9 L312.9,267.4" fill="none" stroke="#333" stroke-width="0.8"/>
<path d="M315.2,267.4 L315.2,263.9 L318.6,261.9 L318.6,265.4" fill="none" stroke="#333" stroke-width="0.8"/>
<path d="M321,264.1 L321,260.6 L324.4,258.6 L324.4,262.1" fill="none" stroke="#333" stroke-width="0.8"/>
<path d="M326.8,260.8 L326.8,257.3 L330.2,255.3 L330.2,258.8" fill="none" stroke="#333" stroke-width="0.8"/>
<path d="M332.6,257.5 L332.6,254 L336,252 L336,255.5" fill="none" stroke="#333" stroke-width="0.8"/>
<path d="M338.4,254.1 L338.4,250.6 L341.8,248.7 L341.8,252.2" fill="none" stroke="#333" stroke-width="0.8"/>
<path d="M344.2,250.8 L344.2,247.3 L347.6,245.3 L347.6,248.8" fill="none" stroke="#333" stroke-width="0.8"/>
<path d="M350,247.5 L350,244 L353.4,242 L353.4,245.5" fill="none" stroke="#333" stroke-width="0.8"/>
<path d="M355.8,244.2 L355.8,240.7 L359.2,238.7 L359.2,242.2" fill="none" stroke="#333" stroke-width="0.8"/>
<path d="M361.6,240.9 L361.6,237.4 L365,235.4 L365,238.9" fill="none" stroke="#333" stroke-width="0.8"/>
<path d="M262.3,233.7 L314,263.4 L366.2,233.5 L314.5,203.8Z" fill="#fff" stroke="#000" stroke-width="1"/>
<ellipse cx="315.3" cy="233.5" rx="37" ry="17.5" fill="#fff" stroke="#111" stroke-width="0.9"/>
<ellipse cx="315.3" cy="232.8" rx="34.5" ry="15.8" fill="none" stroke="#333" stroke-width="0.8"/>
<path d="M281,231 C280.5,214 296,200.2 313,200 C331,200 349.5,214 349,231 A34,15.6 0 0 1 281,231 Z" fill="url(#domeg)" stroke="#111" stroke-width="0.9"/>
<path d="M385,225.2 L405.7,236.9 L417.4,229.8 L396.7,218.1Z" fill="#050505" stroke="#000" stroke-width="1"/><path d="M389.5,225.8 L404.4,234.3 L412.9,229.2 L398,220.8Z" fill="#1a1a1a" stroke="#666" stroke-width="0.7"/>
<circle cx="406.6" cy="233.1" r="0.8" fill="#e0b830"/>
<circle cx="409.6" cy="231.4" r="0.8" fill="#e0b830"/>
<circle cx="412.5" cy="229.6" r="0.8" fill="#e0b830"/>
<path d="M396.7,218.1 L417.4,229.8 L429.2,222.8 L408.5,211.1Z" fill="#050505" stroke="#000" stroke-width="1"/><path d="M401.3,218.8 L416.2,227.2 L424.6,222.1 L409.7,213.7Z" fill="#1a1a1a" stroke="#666" stroke-width="0.7"/>
<circle cx="418.4" cy="226.1" r="0.8" fill="#e0b830"/>
<circle cx="421.3" cy="224.3" r="0.8" fill="#e0b830"/>
<circle cx="424.2" cy="222.5" r="0.8" fill="#e0b830"/>
<path d="M408.5,211.1 L429.2,222.8 L440.9,215.7 L420.2,204Z" fill="#050505" stroke="#000" stroke-width="1"/><path d="M413,211.7 L427.9,220.1 L436.4,215.1 L421.5,206.6Z" fill="#1a1a1a" stroke="#666" stroke-width="0.7"/>
<circle cx="430.1" cy="219" r="0.8" fill="#e0b830"/>
<circle cx="433" cy="217.2" r="0.8" fill="#e0b830"/>
<circle cx="436" cy="215.5" r="0.8" fill="#e0b830"/>
<path d="M409,238.6 L429.2,249.7 L440.4,243.6 L420.2,232.5Z" fill="#050505" stroke="#000" stroke-width="1"/><path d="M413.4,239.3 L427.9,247.3 L436,242.9 L421.4,234.9Z" fill="#1a1a1a" stroke="#666" stroke-width="0.7"/>
<circle cx="430" cy="246.2" r="0.8" fill="#e0b830"/>
<circle cx="432.8" cy="244.6" r="0.8" fill="#e0b830"/>
<circle cx="435.6" cy="243.1" r="0.8" fill="#e0b830"/>
<path d="M420.1,232.5 L440.4,243.6 L451.5,237.5 L431.3,226.4Z" fill="#050505" stroke="#000" stroke-width="1"/><path d="M424.5,233.2 L439.1,241.2 L447.1,236.8 L432.6,228.8Z" fill="#1a1a1a" stroke="#666" stroke-width="0.7"/>
<circle cx="441.1" cy="240.1" r="0.8" fill="#e0b830"/>
<circle cx="443.9" cy="238.6" r="0.8" fill="#e0b830"/>
<circle cx="446.7" cy="237" r="0.8" fill="#e0b830"/>
<path d="M417.4,229.8 L396.7,218.1" stroke="#fff" stroke-width="1"/>
<path d="M429.2,222.8 L408.5,211.1" stroke="#fff" stroke-width="1"/>
<path d="M440.4,243.6 L420.1,232.5" stroke="#fff" stroke-width="1"/>
<path d="M348.4,261.3 L358.9,266.9 L379.8,256.4 L369.3,250.8Z" fill="#050505" stroke="#000" stroke-width="1"/><path d="M352.8,260.6 L360.4,264.6 L375.4,257.1 L367.8,253.1Z" fill="#1a1a1a" stroke="#666" stroke-width="0.7"/>
<path d="M190,245.6 L197.3,248.4 L206.2,244.5 L198.9,241.7Z" fill="#050505" stroke="#000" stroke-width="1"/><path d="M192.3,245.4 L197.5,247.5 L203.9,244.7 L198.7,242.6Z" fill="#1a1a1a" stroke="#666" stroke-width="0.7"/>
<path d="M218.5,254 L226.9,261.3 L234.2,257.3 L225.8,250Z" fill="#050505" stroke="#000" stroke-width="1"/><path d="M220.7,254.5 L226.7,259.7 L232,256.8 L226,251.6Z" fill="#1a1a1a" stroke="#666" stroke-width="0.7"/>
<path d="M225.8,249.5 L245.3,261.3 L256.5,255.7 L237,243.9Z" fill="#050505" stroke="#000" stroke-width="1"/><path d="M230.1,250.4 L244.1,258.9 L252.2,254.8 L238.2,246.3Z" fill="#333" stroke="#bbb" stroke-width="0.7"/>
<path d="M281.6,284 L288.5,289 L297,283.8 L290.1,278.8Z" fill="#050505" stroke="#000" stroke-width="1"/><path d="M283.8,284 L288.7,287.6 L294.8,283.8 L289.9,280.2Z" fill="#1a1a1a" stroke="#666" stroke-width="0.7"/>
<path d="M355.1,224.7 L376.9,234.8 L382.5,231.5 L361,221 Z" fill="#0a0a0a" stroke="#000" stroke-width="0.8"/>
<path d="M263,213.6 L277.3,204.4 L290.5,212.6 L276.3,221.8 Z" fill="#e6c655" stroke="#000" stroke-width="2.2" stroke-linejoin="round"/>
<path d="M262,290 L273.5,296.5 L251,319.5" fill="none" stroke="#000" stroke-width="1.3"/>
<path d="M177.5,276 L245.8,314 L246,319 L171.9,278.2 Z" fill="#d9d5ac" stroke="#000" stroke-width="1"/>
<path d="M177.5,259.5 L245.3,296.9 L245.3,315.9 L178,278Z" fill="#ece8c4" stroke="#000" stroke-width="1.2" stroke-linejoin="round"/>
<path d="M245.3,296.9 L265.8,285.4 L266.3,301.9 L245.3,315.9Z" fill="#ece8c4" stroke="#000" stroke-width="1.2" stroke-linejoin="round"/>
<path d="M177.5,259.5 L198.5,248.4 L265.8,285.4 L245.3,296.9Z" fill="#fff" stroke="#000" stroke-width="1.2" stroke-linejoin="round"/>
<path d="M183.5,264.5 L239.5,295.5 L239.5,311 L183.5,279.5Z" fill="#fbfbf3" stroke="#222" stroke-width="1"/>
<path d="M183.5,264.5 L239.5,295.5 L239.5,300.5 L190,273 L183.5,276Z" fill="#f0edc8"/>
<path d="M183.5,265 L239.5,296" stroke="#111" stroke-width="1.8"/>
<path d="M186,268 L239.5,297.8" stroke="#8a8a70" stroke-width="0.8"/>
<path d="M188,268.8 q-1,2 0.5,3.5" fill="none" stroke="#222" stroke-width="0.9"/>
<path d="M195.9,273.2 q-1,2 0.5,3.5" fill="none" stroke="#222" stroke-width="0.9"/>
<path d="M203.8,277.5 q-1,2 0.5,3.5" fill="none" stroke="#222" stroke-width="0.9"/>
<path d="M211.7,281.9 q-1,2 0.5,3.5" fill="none" stroke="#222" stroke-width="0.9"/>
<path d="M219.6,286.3 q-1,2 0.5,3.5" fill="none" stroke="#222" stroke-width="0.9"/>
<path d="M227.5,290.7 q-1,2 0.5,3.5" fill="none" stroke="#222" stroke-width="0.9"/>
<path d="M235.4,295 q-1,2 0.5,3.5" fill="none" stroke="#222" stroke-width="0.9"/>
<path d="M183.5,279.5 L239.5,311" stroke="#333" stroke-width="1"/>
<path d="M248.5,300 L253.5,297.2 L253.5,314 L248.5,317Z" fill="#fff" stroke="#222" stroke-width="0.9"/>
<path d="M256,296 L262.5,292.5 L262.5,300 L259,302 L259,309 L256,310.5Z" fill="#f6f4dc" stroke="#444" stroke-width="0.7"/>
<path d="M190.5,260.5 l3,-1.7 l2.5,1.4 l-3,1.7z" fill="#111"/>
<path d="M241,290.5 l3.5,-2 l3,1.6 l-3.5,2z" fill="#111"/>
<path d="M181,258 l3,-3 l3,-1 l2,-3 l4,-2" fill="none" stroke="#000" stroke-width="1"/>
<g fill="none" stroke="#000" stroke-width="2.2" stroke-linecap="butt" stroke-linejoin="miter"><path d="M255.5,164.3 L286.5,181.5"/><path d="M264.5,167.8 L278.5,157 L286.5,162.3 L279,167.5 L271.5,163"/><path d="M275.5,172.8 L292,164"/><path d="M307.5,173 L298.5,178.3 L306,183" stroke-width="1.6"/></g>
<g opacity="0.995">
<text transform="matrix(0.863,0.505,-0.8,0.6,368.5,167.5)" font-family="Liberation Sans" font-size="12" font-weight="bold" letter-spacing="0" fill="#000" stroke="#000" stroke-width="0.5">LED ENGIN</text>
<path d="M376,183 L384,178.5" stroke="#000" stroke-width="1.5"/>
<path d="M410.5,248.6 L418,246 L426,251.5" fill="none" stroke="#000" stroke-width="0.9"/>
<text transform="matrix(0.863,0.505,-0.8,0.6,287.5,304.8)" font-family="Liberation Sans" font-size="8" font-weight="bold" letter-spacing="1" fill="#000" stroke="#000" stroke-width="0.35">1800-0402</text>
<text transform="matrix(0.863,0.505,-0.8,0.6,277.5,310.8)" font-family="Liberation Sans" font-size="8.2" font-weight="bold" letter-spacing="1" fill="#000" stroke="#000" stroke-width="0.35">REV  A</text>
<text transform="matrix(0.86,0.5,-0.5,0.86,265,204)" font-family="Liberation Sans" font-size="6" font-weight="bold" letter-spacing="0" fill="#000" stroke="#000" stroke-width="0.3">T1</text>
<text transform="matrix(0.86,0.5,-0.5,0.86,257,258)" font-family="Liberation Sans" font-size="6" font-weight="bold" letter-spacing="0" fill="#000" stroke="#000" stroke-width="0.3">U3</text>
<text transform="matrix(0.86,0.5,-0.5,0.86,213,251)" font-family="Liberation Sans" font-size="6" font-weight="bold" letter-spacing="0" fill="#000" stroke="#000" stroke-width="0.3">2</text>
<text transform="matrix(0.86,0.5,-0.5,0.86,298,287)" font-family="Liberation Sans" font-size="6" font-weight="bold" letter-spacing="0" fill="#000" stroke="#000" stroke-width="0.3">2</text>
<text transform="matrix(0.86,0.5,-0.5,0.86,376,220)" font-family="Liberation Sans" font-size="6" font-weight="bold" letter-spacing="0" fill="#000" stroke="#000" stroke-width="0.3">D1</text>
<text transform="matrix(0.86,0.5,-0.5,0.86,398,209)" font-family="Liberation Sans" font-size="6" font-weight="bold" letter-spacing="0" fill="#000" stroke="#000" stroke-width="0.3">D2</text>
<text transform="matrix(0.86,0.5,-0.5,0.86,409,203)" font-family="Liberation Sans" font-size="6" font-weight="bold" letter-spacing="0" fill="#000" stroke="#000" stroke-width="0.3">D3</text>
<text transform="matrix(0.86,0.5,-0.5,0.86,444,245)" font-family="Liberation Sans" font-size="6" font-weight="bold" letter-spacing="0" fill="#000" stroke="#000" stroke-width="0.3">D5</text>
<text transform="matrix(0.86,0.5,-0.5,0.86,434,251)" font-family="Liberation Sans" font-size="6" font-weight="bold" letter-spacing="0" fill="#000" stroke="#000" stroke-width="0.3">D4</text>
<text transform="matrix(0.86,0.5,-0.5,0.86,418,253)" font-family="Liberation Sans" font-size="6" font-weight="bold" letter-spacing="0" fill="#000" stroke="#000" stroke-width="0.3">CT2</text>
<text transform="matrix(0.86,0.5,-0.5,0.86,414,259)" font-family="Liberation Sans" font-size="6" font-weight="bold" letter-spacing="0" fill="#000" stroke="#000" stroke-width="0.3">LED</text>
<text transform="matrix(0.86,0.5,-0.5,0.86,410,265)" font-family="Liberation Sans" font-size="6" font-weight="bold" letter-spacing="0" fill="#000" stroke="#000" stroke-width="0.3">KL1050-001</text>
</g>
<path d="M211.1,134.3 a20.1,10.6 0 0 0 40.2,0 l0,6 a20.1,10.6 0 0 1 -40.2,0 z" fill="url(#washside)" stroke="#000" stroke-width="1.2"/>
<ellipse cx="231.2" cy="134.3" rx="20.1" ry="10.6" fill="#d2d2d2" stroke="#111" stroke-width="1.2"/>
<clipPath id="hc16"><ellipse cx="231.2" cy="135.1" rx="9.8" ry="5.3"/></clipPath><ellipse cx="231.2" cy="135.1" rx="9.8" ry="5.3" fill="url(#washhole)"/><ellipse cx="231.2" cy="141.6" rx="9.8" ry="5.3" fill="#fff" clip-path="url(#hc16)"/><ellipse cx="231.2" cy="135.1" rx="9.8" ry="5.3" fill="none" stroke="#000" stroke-width="1.3"/>
<path d="M354.9,112.5 a20,10.6 0 0 0 40,0 l0,5.5 a20,10.6 0 0 1 -40,0 z" fill="url(#washside)" stroke="#000" stroke-width="1.2"/>
<ellipse cx="374.9" cy="112.5" rx="20" ry="10.6" fill="#d2d2d2" stroke="#111" stroke-width="1.2"/>
<clipPath id="hc17"><ellipse cx="374.9" cy="113.3" rx="9.8" ry="5.3"/></clipPath><ellipse cx="374.9" cy="113.3" rx="9.8" ry="5.3" fill="url(#washhole)"/><ellipse cx="374.9" cy="119.3" rx="9.8" ry="5.3" fill="#fff" clip-path="url(#hc17)"/><ellipse cx="374.9" cy="113.3" rx="9.8" ry="5.3" fill="none" stroke="#000" stroke-width="1.3"/>
<path d="M221.9,73.3 L221.9,116 Q222.9,120 231.6,120 Q240.3,120 241.3,116 L241.3,73.3 Z" fill="url(#shank)" stroke="#000" stroke-width="1.8"/>
<path d="M223.1,83.9 l5.2,-0.6 M230.8,81.7 l2.3,-0.7 M235.8,82.7 l4,0" stroke="#000" stroke-width="1.15" fill="none"/>
<path d="M223.1,85.6 l4.8,-0.6 M229.8,85.2 l5.3,-0.6 M236.2,85.9 l3.2,0.4" stroke="#000" stroke-width="1.15" fill="none"/>
<path d="M223.1,88.8 l4.1,-0.7 M230.1,87.1 l5.3,-0.3 M238.1,87.9 l2,0" stroke="#000" stroke-width="1.15" fill="none"/>
<path d="M223.1,91.9 l2.5,0.5 M226.8,91 l2.6,-0.1 M230.6,91.1 l2.7,0.2 M235.1,90.7 l4,0.8" stroke="#000" stroke-width="1.15" fill="none"/>
<path d="M223.1,94.4 l3.9,0.3 M229.5,93.6 l3.6,0.6 M234.7,92.9 l4.4,0.4" stroke="#000" stroke-width="1.15" fill="none"/>
<path d="M223.1,97.3 l2.8,0.6 M227.8,96.4 l4.8,-0.5 M233.9,96.1 l2.1,0.7 M238.9,96.2 l1.2,0.5" stroke="#000" stroke-width="1.15" fill="none"/>
<path d="M223.1,99.2 l2.8,-0.6 M228.2,99.6 l5.4,0.6 M236.4,99.8 l3.7,-0.7" stroke="#000" stroke-width="1.15" fill="none"/>
<path d="M223.1,102.3 l3.5,-0.4 M229,101.5 l2.2,0.5 M232.7,101.8 l3.6,0.2 M237.3,101.6 l2.8,-0.7" stroke="#000" stroke-width="1.15" fill="none"/>
<path d="M223.1,104.7 l2.3,0.6 M227.6,104.7 l2.3,0.2 M232.3,104.8 l2.8,-0.8 M237,104.8 l3.1,-0.4" stroke="#000" stroke-width="1.15" fill="none"/>
<path d="M223.1,108.1 l2.5,0.6 M228.2,107 l2.8,0 M232.4,106.8 l3.4,0.4 M238.3,107.5 l1.8,-0.7" stroke="#000" stroke-width="1.15" fill="none"/>
<path d="M223.1,111.1 l2,-0.2 M227,110 l2.8,0.1 M231.7,109.4 l2.7,-0.5 M236.4,110.4 l3.4,0.1" stroke="#000" stroke-width="1.15" fill="none"/>
<path d="M223.1,113.9 l4.8,-0.6 M229.5,111.9 l4.4,-0.3 M235.2,112.5 l3.9,-0.2" stroke="#000" stroke-width="1.15" fill="none"/>
<path d="M223.1,116.4 l5.2,-0.4 M230.4,115.3 l3.1,-0.5 M235.2,115.6 l4.7,-0.6" stroke="#000" stroke-width="1.15" fill="none"/>
<path d="M223.1,118.6 l4.6,-0.6 M229,117.7 l4.1,0.7 M234.9,118.9 l3.3,-0.4 M239.3,118.6 l0.8,0.1" stroke="#000" stroke-width="1.15" fill="none"/>
<path d="M223.4,75.3 L223.4,117 M239.8,75.3 L239.8,117" stroke="#222" stroke-width="1.6" stroke-dasharray="2 1"/>
<path d="M212.3,68.3 a19.3,7.5 0 0 0 38.6,0 l0,5 a19.3,7.5 0 0 1 -38.6,0 z" fill="url(#rimg)" stroke="#000" stroke-width="1.4"/>
<path d="M212.3,71.3 a19.3,7.5 0 0 0 38.6,0" fill="none" stroke="#222" stroke-width="1"/>
<path d="M212.3,68.3 A19.3,12.1 0 0 1 250.9,68.3 A19.3,7.5 0 0 1 212.3,68.3 Z" fill="url(#headg)" stroke="#000" stroke-width="1.4"/>
<g transform="translate(231.3,62.3)" fill="#6a6a6a" stroke="#000" stroke-width="1.8" stroke-linejoin="round"><path d="M-8.5,0 C-7,-3 -3.5,-2.8 -1.5,-1.5 L-0.8,-5.5 L1.5,-5.5 L1.5,-1.5 C3.5,-2.8 7,-2.5 8.5,-0.2 C6.5,1.5 3.5,1.3 1.5,0.6 L0.8,4.8 L-1.5,4.8 L-1.5,0.6 C-3.5,2 -7,2 -8.5,0Z"/></g>
<path d="M365.3,50.8 L365.3,93 Q366.3,97 375.5,97 Q384.7,97 385.7,93 L385.7,50.8 Z" fill="url(#shank)" stroke="#000" stroke-width="1.8"/>
<path d="M366.5,60.4 l3.6,0.5 M371.8,60.3 l4.2,-0.5 M377.8,59.4 l4.3,-0.1 M383.8,61.1 l0.7,0.6" stroke="#000" stroke-width="1.15" fill="none"/>
<path d="M366.5,64 l4.2,0.5 M372.8,62.4 l5.1,-0.7 M380.4,63.4 l4.1,-0.7" stroke="#000" stroke-width="1.15" fill="none"/>
<path d="M366.5,65.9 l4.6,-0.7 M373.8,65.1 l2.1,0.6 M377.7,65.8 l5.4,-0.4" stroke="#000" stroke-width="1.15" fill="none"/>
<path d="M366.5,68.9 l3.5,-0.7 M371,67.6 l4.5,0 M376.9,68.3 l3.7,0.8 M382.6,69.2 l1.9,-0.2" stroke="#000" stroke-width="1.15" fill="none"/>
<path d="M366.5,72 l4.4,0.5 M372.5,70.2 l3.6,0 M379,70.5 l4.8,-0.2" stroke="#000" stroke-width="1.15" fill="none"/>
<path d="M366.5,74 l5,-0.3 M372.6,74.1 l2.9,0.1 M377.7,73 l5.3,-0.5" stroke="#000" stroke-width="1.15" fill="none"/>
<path d="M366.5,76.6 l3.1,-0.1 M372.5,76.5 l3,0.1 M378.3,77.1 l4.2,-0.3" stroke="#000" stroke-width="1.15" fill="none"/>
<path d="M366.5,79.3 l3.4,0 M371.6,79.2 l4.4,0.7 M378.4,79.1 l2.3,0.5 M383.3,79.1 l1.2,-0.7" stroke="#000" stroke-width="1.15" fill="none"/>
<path d="M366.5,83.3 l2.9,0.1 M371.6,81.5 l3.1,0.4 M377.1,81.3 l3.2,0.4 M382.2,82.1 l2.3,0.1" stroke="#000" stroke-width="1.15" fill="none"/>
<path d="M366.5,85.1 l4.2,0.3 M373.2,84.8 l4.5,0.3 M380.7,84.8 l3.2,-0.6" stroke="#000" stroke-width="1.15" fill="none"/>
<path d="M366.5,87.8 l2.9,-0.5 M371.2,87.4 l4.4,-0.3 M377.3,88 l3.4,-0.6 M383.2,88.4 l1.3,-0.3" stroke="#000" stroke-width="1.15" fill="none"/>
<path d="M366.5,90.5 l4.5,-0.2 M372.4,90.3 l2.5,-0.5 M376.9,89.9 l3.7,0.2 M383.5,90.7 l1,0.2" stroke="#000" stroke-width="1.15" fill="none"/>
<path d="M366.5,93.9 l3.4,-0.6 M372.1,93.4 l4.5,0.5 M378.3,92.5 l4.3,-0.6" stroke="#000" stroke-width="1.15" fill="none"/>
<path d="M366.8,52.8 L366.8,94 M384.2,52.8 L384.2,94" stroke="#222" stroke-width="1.6" stroke-dasharray="2 1"/>
<path d="M356.2,45.8 a19.3,7.5 0 0 0 38.6,0 l0,5 a19.3,7.5 0 0 1 -38.6,0 z" fill="url(#rimg)" stroke="#000" stroke-width="1.4"/>
<path d="M356.2,48.8 a19.3,7.5 0 0 0 38.6,0" fill="none" stroke="#222" stroke-width="1"/>
<path d="M356.2,45.8 A19.3,11.5 0 0 1 394.8,45.8 A19.3,7.5 0 0 1 356.2,45.8 Z" fill="url(#headg)" stroke="#000" stroke-width="1.4"/>
<g transform="translate(375.5,40.3)" stroke="#000" stroke-width="1.5" fill="#444" stroke-linejoin="round"><path d="M-8,-3 L-4,-3 L-3,-5 L3,-5 L4,-3 L8,-3 L5,1 L8,5 L3,4 L0,2 L-3,4 L-8,5 L-5,1Z"/><path d="M-2,-4.5 L-2,2.5 M0,-4.5 L0,2.5 M2,-4.5 L2,2.5" stroke="#ccc" stroke-width="0.8"/></g>
<path d="M327.1,135.5 L327.1,176.5 Q328.1,180.5 337,180.5 Q345.9,180.5 346.9,176.5 L346.9,135.5 Z" fill="url(#shank)" stroke="#000" stroke-width="1.8"/>
<path d="M328.3,145.8 l3.6,-0.1 M333.8,144.9 l2.7,0.6 M337.6,145.5 l4.8,-0.6 M345.1,145.8 l0.6,0.6" stroke="#000" stroke-width="1.15" fill="none"/>
<path d="M328.3,147.9 l4.4,0.5 M334.7,147.7 l2.1,0.7 M338.3,147.4 l5.2,0.4 M345.2,148.1 l0.5,0.2" stroke="#000" stroke-width="1.15" fill="none"/>
<path d="M328.3,150.9 l5.2,-0.5 M334.8,150.5 l4.6,-0.2 M341.4,149.9 l3.2,-0.7" stroke="#000" stroke-width="1.15" fill="none"/>
<path d="M328.3,154.6 l3.5,-0.7 M334.1,153.3 l3,0.2 M338.5,153.6 l4.4,-0.5 M344.6,153.2 l1.1,-0.3" stroke="#000" stroke-width="1.15" fill="none"/>
<path d="M328.3,157.1 l3.7,0.2 M334.8,155.7 l2.3,-0.1 M340.1,155.7 l4.3,0.7" stroke="#000" stroke-width="1.15" fill="none"/>
<path d="M328.3,159.3 l2.1,-0.5 M332,159.4 l3,-0.7 M336.2,158.8 l3.7,0 M341.2,159.1 l4.5,-0.4" stroke="#000" stroke-width="1.15" fill="none"/>
<path d="M328.3,162.2 l4.2,-0.5 M335.3,160.9 l4.2,0.7 M342.4,161.4 l2.9,0" stroke="#000" stroke-width="1.15" fill="none"/>
<path d="M328.3,164.4 l3.7,0.2 M334,163.7 l3.9,0.7 M339.7,164.3 l3.3,0.2 M344.3,165.4 l1.4,-0.7" stroke="#000" stroke-width="1.15" fill="none"/>
<path d="M328.3,167.6 l2.3,-0.1 M332.4,167.5 l2.7,0.4 M337.3,166.6 l2.2,-0.7 M342.4,167.8 l3.3,0.7" stroke="#000" stroke-width="1.15" fill="none"/>
<path d="M328.3,169.8 l3.8,-0.3 M334.2,170 l2.4,0 M338.4,169.6 l5.3,0.1" stroke="#000" stroke-width="1.15" fill="none"/>
<path d="M328.3,172.7 l3.8,0.8 M333.3,173 l4.4,0.6 M340,173 l3.1,-0.6 M345.6,173.1 l0.1,0.2" stroke="#000" stroke-width="1.15" fill="none"/>
<path d="M328.3,176 l5.4,-0.1 M335.7,175.1 l5.2,-0.6 M342,175 l2.6,0.1" stroke="#000" stroke-width="1.15" fill="none"/>
<path d="M328.3,178.8 l4.2,0.3 M335,178 l5.4,-0.2 M341.7,177.9 l4,-0.5" stroke="#000" stroke-width="1.15" fill="none"/>
<path d="M328.6,137.5 L328.6,177.5 M345.4,137.5 L345.4,177.5" stroke="#222" stroke-width="1.6" stroke-dasharray="2 1"/>
<path d="M317.8,130.3 a19.2,7.8 0 0 0 38.5,0 l0,5.2 a19.2,7.8 0 0 1 -38.5,0 z" fill="url(#rimg)" stroke="#000" stroke-width="1.4"/>
<path d="M317.8,133.4 a19.2,7.8 0 0 0 38.5,0" fill="none" stroke="#222" stroke-width="1"/>
<path d="M317.8,130.3 A19.2,13 0 0 1 356.2,130.3 A19.2,7.8 0 0 1 317.8,130.3 Z" fill="url(#headg)" stroke="#000" stroke-width="1.4"/>
<g transform="translate(337,123.8)" fill="#6a6a6a" stroke="#000" stroke-width="1.8" stroke-linejoin="round"><path d="M-8.5,0 C-7,-3 -3.5,-2.8 -1.5,-1.5 L-0.8,-5.5 L1.5,-5.5 L1.5,-1.5 C3.5,-2.8 7,-2.5 8.5,-0.2 C6.5,1.5 3.5,1.3 1.5,0.6 L0.8,4.8 L-1.5,4.8 L-1.5,0.6 C-3.5,2 -7,2 -8.5,0Z"/></g>
<path d="M316.7,195.6 a20,10.8 0 0 0 40,0 l0,5.8 a20,10.8 0 0 1 -40,0 z" fill="url(#washside)" stroke="#000" stroke-width="1.2"/>
<ellipse cx="336.7" cy="195.6" rx="20" ry="10.8" fill="#d2d2d2" stroke="#111" stroke-width="1.2"/>
<clipPath id="hc18"><ellipse cx="336.7" cy="196.4" rx="9.3" ry="5.6"/></clipPath><ellipse cx="336.7" cy="196.4" rx="9.3" ry="5.6" fill="url(#washhole)"/><ellipse cx="336.7" cy="202.7" rx="9.3" ry="5.6" fill="#fff" clip-path="url(#hc18)"/><ellipse cx="336.7" cy="196.4" rx="9.3" ry="5.6" fill="none" stroke="#000" stroke-width="1.3"/>
<g transform="translate(4,5)" filter="url(#blur)"><path d="M475.5,366.5 L500.5,354.1 L500.5,378.9 Z" fill="rgba(0,0,0,0.5)"/><rect x="499" y="364" width="14.4" height="5" fill="rgba(0,0,0,0.5)"/><rect x="518.4" y="364" width="14.4" height="5" fill="rgba(0,0,0,0.5)"/><rect x="538.5" y="364" width="15.1" height="5" fill="rgba(0,0,0,0.5)"/></g>
<g transform="translate(0,0)"><path d="M475.5,366.5 L500.5,354.1 L500.5,378.9 Z" fill="#000"/><rect x="499" y="364" width="14.4" height="5" fill="#000"/><rect x="518.4" y="364" width="14.4" height="5" fill="#000"/><rect x="538.5" y="364" width="15.1" height="5" fill="#000"/></g>
<g transform="translate(4,5)" filter="url(#blur)"><path d="M402.5,540.4 L427.7,528 L427.7,552.8 Z" fill="rgba(0,0,0,0.5)"/><rect x="426" y="537.9" width="14.5" height="5" fill="rgba(0,0,0,0.5)"/><rect x="445.5" y="537.9" width="14.6" height="5" fill="rgba(0,0,0,0.5)"/><rect x="465.4" y="537.9" width="15" height="5" fill="rgba(0,0,0,0.5)"/></g>
<g transform="translate(0,0)"><path d="M402.5,540.4 L427.7,528 L427.7,552.8 Z" fill="#000"/><rect x="426" y="537.9" width="14.5" height="5" fill="#000"/><rect x="445.5" y="537.9" width="14.6" height="5" fill="#000"/><rect x="465.4" y="537.9" width="15" height="5" fill="#000"/></g>
</svg>
<div class="box" style="left:559px;top:332px;width:124px;height:65px;padding-top:7.5px;">TIM<br>(GAP PAD)</div>
<div class="box" style="left:491px;top:510px;width:108px;height:65px;padding-top:7.5px;">HEAT<br>SINK</div>
</body></html>
